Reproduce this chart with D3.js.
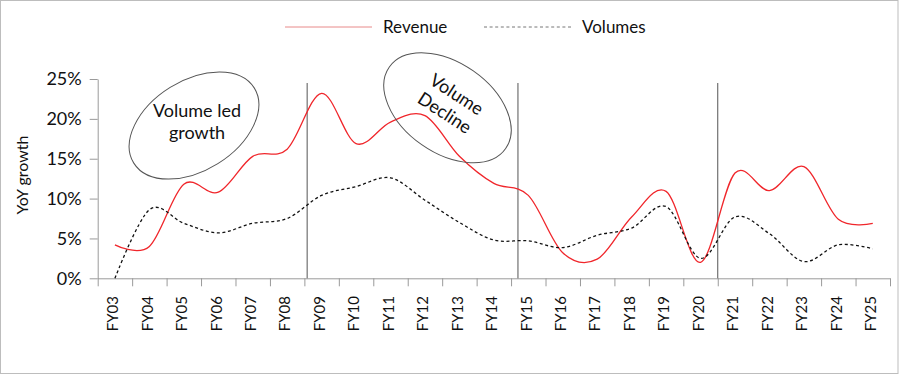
<!DOCTYPE html>
<meta charset="utf-8">
<style>
  body { margin: 0; background: #fff; }
  text { font-family: Lato, "Open Sans", sans-serif; fill: #111; }
</style>
<script src="https://d3js.org/d3.v7.min.js"></script>
<svg width="900" height="377"></svg>
<script>
const svg = d3.select('svg');

const years = ['FY03','FY04','FY05','FY06','FY07','FY08','FY09','FY10','FY11','FY12','FY13','FY14',
               'FY15','FY16','FY17','FY18','FY19','FY20','FY21','FY22','FY23','FY24','FY25'];
const revenue = [4.2, 4.0, 11.8, 10.8, 15.3, 16.2, 23.2, 16.9, 19.6, 20.4, 15.3, 11.9,
                 10.4, 3.2, 2.4, 7.7, 10.9, 2.0, 13.2, 11.0, 14.0, 7.4, 6.9];
const volumes = [0, 8.6, 6.9, 5.7, 6.9, 7.5, 10.4, 11.5, 12.6, 9.8, 7.0, 4.8,
                 4.7, 3.85, 5.4, 6.3, 9.0, 2.5, 7.7, 5.6, 2.1, 4.2, 3.7];
const yTicks = [0, 5, 10, 15, 20, 25];
// period dividers, in category units from the left edge of the axis
const dividers = [6.08, 12.2, 18.0];

// frame
svg.append('rect')
  .attr('x', 0.5).attr('y', 0.5).attr('width', 897.5).attr('height', 373)
  .attr('fill', 'none').attr('stroke', '#bdbdbd');

const x = d3.scaleBand().domain(years).range([97.7, 890]);
const xe = d3.scaleLinear().domain([0, years.length]).range([97.7, 890]);
const y = d3.scaleLinear().domain([0, 25]).range([278.3, 79]);
const cx = d => x(d) + x.bandwidth() / 2;

// y axis
const ya = svg.append('g').attr('transform', 'translate(97.7,0)')
  .call(d3.axisLeft(y).tickValues(yTicks).tickSize(8).tickSizeOuter(0).tickFormat(d => d + '%'));
ya.select('.domain').attr('stroke', '#9a9a9a');
ya.selectAll('.tick line').attr('stroke', '#9a9a9a');
ya.selectAll('.tick text').attr('x', -16).attr('font-size', 18)
  .attr('font-family', 'Lato').attr('fill', '#111');

// x axis: ticks between categories
const xa = svg.append('g').attr('transform', 'translate(0,278.3)')
  .call(d3.axisBottom(xe).tickValues(d3.range(years.length + 1)).tickSize(8).tickSizeOuter(0).tickFormat(''));
xa.select('.domain').attr('stroke', '#9a9a9a');
xa.selectAll('.tick line').attr('stroke', '#9a9a9a');

svg.append('g').selectAll('text').data(years).join('text')
  .attr('transform', d => `translate(${cx(d) - 2},296) rotate(-90)`)
  .attr('text-anchor', 'end').attr('dy', '0.35em')
  .attr('font-family', '"Liberation Sans", Arial, sans-serif').attr('font-size', 15)
  .text(d => d);

svg.append('text')
  .attr('transform', 'translate(28,175) rotate(-90)')
  .attr('text-anchor', 'middle').attr('font-size', 16)
  .text('YoY growth');

// dividers
svg.append('g').selectAll('line').data(dividers).join('line')
  .attr('x1', d => xe(d)).attr('x2', d => xe(d))
  .attr('y1', 83).attr('y2', y(0))
  .attr('stroke', '#555').attr('stroke-width', 1);

// lines
const line = d3.line().curve(d3.curveCardinal.tension(0));
svg.append('path')
  .attr('d', line(revenue.map((v, i) => [cx(years[i]), y(v)])))
  .attr('fill', 'none').attr('stroke', '#f0262b').attr('stroke-width', 1.3);
svg.append('path')
  .attr('d', line(volumes.map((v, i) => [cx(years[i]), y(v)])))
  .attr('fill', 'none').attr('stroke', '#111').attr('stroke-width', 1.3)
  .attr('stroke-dasharray', '3,2.6');

// annotations
const notes = [
  { cx: 194, cy: 125.5, rot: -32, lines: ['Volume led', 'growth'], trot: 0 },
  { cx: 447.5, cy: 107.8, rot: 35, lines: ['Volume', 'Decline'], trot: 33 }
];
notes.forEach(n => {
  svg.append('ellipse')
    .attr('transform', `translate(${n.cx},${n.cy}) rotate(${n.rot})`)
    .attr('rx', 71).attr('ry', 45)
    .attr('fill', 'none').attr('stroke', '#555').attr('stroke-width', 1);
  const t = svg.append('text')
    .attr('transform', `translate(${n.cx + 3},${n.cy - 4}) rotate(${n.trot})`)
    .attr('text-anchor', 'middle').attr('font-size', 18);
  n.lines.forEach((l, i) => t.append('tspan').attr('x', 0).attr('y', (i - 0.5) * 22 + 6).text(l));
});

// legend
const legend = [
  { name: 'Revenue', x: 285, color: '#e88a8a', dash: null },
  { name: 'Volumes', x: 484, color: '#777', dash: '3,2.6' }
];
const lg = svg.append('g').selectAll('g').data(legend).join('g')
  .attr('transform', d => `translate(${d.x},27)`);
lg.append('line').attr('x1', 0).attr('x2', 87)
  .attr('stroke', d => d.color).attr('stroke-width', 1)
  .attr('stroke-dasharray', d => d.dash);
lg.append('text').attr('x', 98).attr('dy', '0.35em').attr('font-size', 17)
  .text(d => d.name);
</script>
